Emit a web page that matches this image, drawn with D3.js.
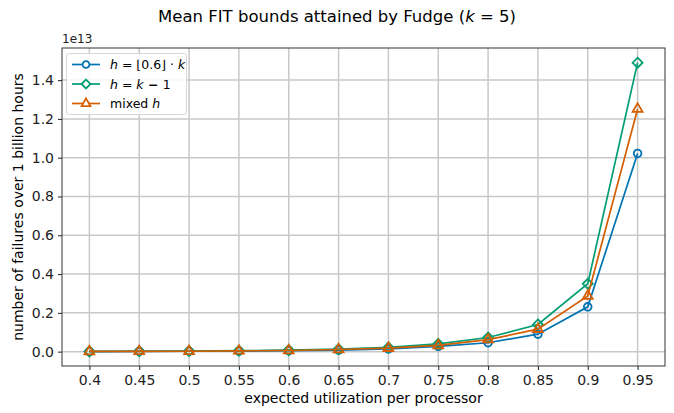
<!DOCTYPE html>
<html>
  <head>
    <meta charset="utf-8">
    <script src="https://d3js.org/d3.v7.min.js" charset="utf-8"></script>
    <style>
      body { margin: 0; background: #fff; }
      text { font-family: "DejaVu Sans", sans-serif; fill: #000; }
    </style>
  </head>
  <body>
    <script type="text/javascript">

// utilization values on the x axis
var utilization = [0.4, 0.45, 0.5, 0.55, 0.6, 0.65, 0.7, 0.75, 0.8, 0.85, 0.9, 0.95];
var xTickLabels = ["0.4", "0.45", "0.5", "0.55", "0.6", "0.65", "0.7", "0.75", "0.8", "0.85", "0.9", "0.95"];
var yTicks = [0.0, 0.2, 0.4, 0.6, 0.8, 1.0, 1.2, 1.4];

// values in units of 1e13
var floorH = [0.0005, 0.001, 0.002, 0.003, 0.005, 0.008, 0.014, 0.027, 0.046, 0.090, 0.231, 1.022];
var kMinus1 = [0.001, 0.002, 0.003, 0.005, 0.008, 0.013, 0.022, 0.040, 0.073, 0.140, 0.350, 1.490];
var mixedH = [0.001, 0.0015, 0.002, 0.004, 0.006, 0.011, 0.018, 0.032, 0.062, 0.116, 0.287, 1.251];

var w = 674;
var h = 413;
var pLeft = 62, pRight = 665, pTop = 48, pBottom = 366;

var svg = d3.select("body").append("svg")
    .attr("width", w)
    .attr("height", h);

var x = d3.scaleLinear().domain([0.3725, 0.9775]).range([pLeft, pRight]);
var y = d3.scaleLinear().domain([-0.0740, 1.5656]).range([pBottom, pTop]);

// grid
svg.append("g").selectAll("line")
    .data(utilization).enter().append("line")
    .attr("x1", function(d) { return x(d); })
    .attr("x2", function(d) { return x(d); })
    .attr("y1", pTop).attr("y2", pBottom)
    .style("stroke", "#c8c8c8").style("stroke-width", 1.5);

svg.append("g").selectAll("line")
    .data(yTicks).enter().append("line")
    .attr("x1", pLeft).attr("x2", pRight)
    .attr("y1", function(d) { return y(d); })
    .attr("y2", function(d) { return y(d); })
    .style("stroke", "#c8c8c8").style("stroke-width", 1.5);

// axes
var xAxis = d3.axisBottom(x)
    .tickValues(utilization)
    .tickFormat(function(d, i) { return xTickLabels[i]; })
    .tickSize(4).tickPadding(5).tickSizeOuter(0);
var yAxis = d3.axisLeft(y)
    .tickValues(yTicks)
    .tickFormat(d3.format(".1f"))
    .tickSize(4).tickPadding(4).tickSizeOuter(0);

var gx = svg.append("g").attr("transform", "translate(0," + pBottom + ")").call(xAxis);
var gy = svg.append("g").attr("transform", "translate(" + pLeft + ",0)").call(yAxis);
[gx, gy].forEach(function(g) {
  g.select(".domain").remove();
  g.selectAll("text").style("font-family", "DejaVu Sans").style("font-size", "14px").style("fill", "#222");
  g.selectAll("line").style("stroke", "#222").style("stroke-width", 1);
});

// frame
svg.append("rect")
    .attr("x", pLeft).attr("y", pTop)
    .attr("width", pRight - pLeft).attr("height", pBottom - pTop)
    .style("fill", "none").style("stroke", "#333").style("stroke-width", 1);

var series = [
  { values: floorH,  color: "#0173B2", marker: d3.symbolCircle,   size: 46 },
  { values: kMinus1, color: "#029E73", marker: d3.symbolDiamond2, size: 64 },
  { values: mixedH,  color: "#D55E00", marker: d3.symbolTriangle, size: 42 }
];

var line = d3.line()
    .x(function(d, i) { return x(utilization[i]); })
    .y(function(d) { return y(d); });

series.forEach(function(s) {
  svg.append("path")
      .attr("d", line(s.values))
      .style("fill", "none")
      .style("stroke", s.color)
      .style("stroke-width", 1.7);
  svg.append("g").selectAll("path")
      .data(s.values).enter().append("path")
      .attr("transform", function(d, i) { return "translate(" + x(utilization[i]) + "," + y(d) + ")"; })
      .attr("d", d3.symbol().type(s.marker).size(s.size))
      .style("fill", "none")
      .style("stroke", s.color)
      .style("stroke-width", 1.8);
});

// offset text
svg.append("text").attr("x", pLeft).attr("y", 43)
    .style("font-size", "12px").style("fill", "#222").text("1e13");

// title
var title = svg.append("text").attr("x", w / 2).attr("y", 22)
    .attr("text-anchor", "middle").style("font-size", "16.5px");
title.append("tspan").text("Mean FIT bounds attained by Fudge (");
title.append("tspan").style("font-style", "italic").text("k");
title.append("tspan").text(" = 5)");

// axis labels
svg.append("text").attr("x", (pLeft + pRight) / 2).attr("y", 403)
    .attr("text-anchor", "middle").style("font-size", "14px")
    .text("expected utilization per processor");
svg.append("text")
    .attr("transform", "translate(23," + ((pTop + pBottom) / 2) + ") rotate(-90)")
    .attr("text-anchor", "middle").style("font-size", "14px")
    .text("number of failures over 1 billion hours");

// legend
var legend = svg.append("g");
legend.append("rect")
    .attr("x", 66.5).attr("y", 53.5).attr("width", 120).attr("height", 61).attr("rx", 3)
    .style("fill", "#fff").style("fill-opacity", 0.85)
    .style("stroke", "#d6d6d6").style("stroke-width", 1);

var rows = legend.selectAll("g.row").data(series).enter().append("g")
    .attr("transform", function(d, i) { return "translate(0," + (64.5 + i * 19.5) + ")"; });
rows.append("line")
    .attr("x1", 72).attr("x2", 100).attr("y1", 0).attr("y2", 0)
    .style("stroke", function(d) { return d.color; }).style("stroke-width", 1.7);
rows.append("path")
    .attr("transform", "translate(86,0)")
    .attr("d", function(d) { return d3.symbol().type(d.marker).size(d.size * 0.8)(); })
    .style("fill", "#fff")
    .style("stroke", function(d) { return d.color; }).style("stroke-width", 1.8);

var t0 = legend.append("text").attr("x", 110).attr("y", 69).style("font-size", "12.5px");
t0.append("tspan").style("font-style", "italic").text("h");
t0.append("tspan").text(" = \u230A0.6\u230B \u00B7 ");
t0.append("tspan").style("font-style", "italic").text("k");

var t1 = legend.append("text").attr("x", 110).attr("y", 88.5).style("font-size", "12.5px");
t1.append("tspan").style("font-style", "italic").text("h");
t1.append("tspan").text(" = ");
t1.append("tspan").style("font-style", "italic").text("k");
t1.append("tspan").style("font-weight", "bold").text(" \u2212 ");
t1.append("tspan").text("1");

var t2 = legend.append("text").attr("x", 110).attr("y", 108).style("font-size", "12.5px");
t2.append("tspan").text("mixed ");
t2.append("tspan").style("font-style", "italic").text("h");

    </script>
  </body>
</html>
